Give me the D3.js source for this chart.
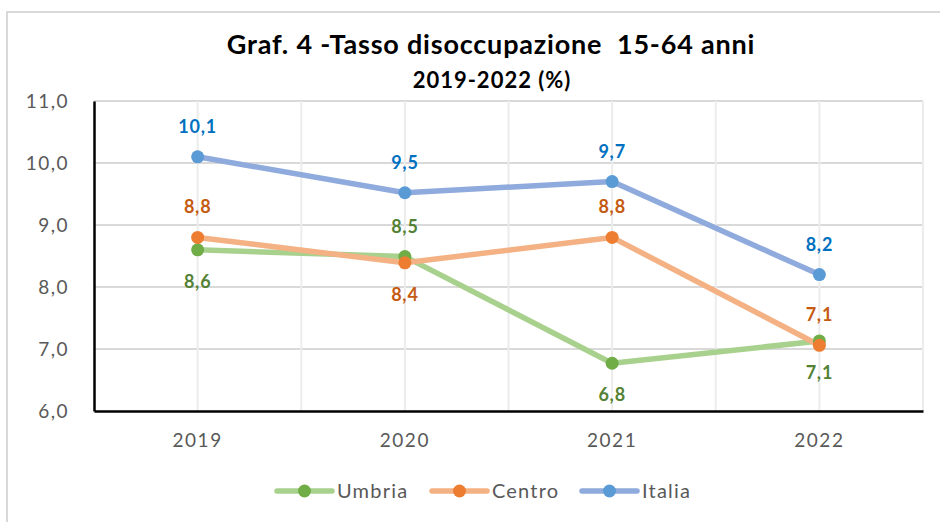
<!DOCTYPE html>
<html>
<head>
<meta charset="utf-8">
<script src="https://d3js.org/d3.v7.min.js"></script>
<style>
  body { margin: 0; background: #fff; }
  text { font-family: Lato, "Liberation Sans", sans-serif; }
</style>
</head>
<body>
<script>
  var years = ["2019", "2020", "2021", "2022"];
  var umbria = [8.6, 8.49, 6.77, 7.13];
  var centro = [8.8, 8.39, 8.8, 7.06];
  var italia = [10.1, 9.52, 9.7, 8.2];
  var yTicks = [6, 7, 8, 9, 10, 11];

  // label side for each point: -1 above, 1 below
  var series = [
    { name: "Umbria", values: umbria, line: "#a9d18e", dot: "#70ad47", label: "#548235", side: [1, -1, 1, 1] },
    { name: "Centro", values: centro, line: "#f4b183", dot: "#ed7d31", label: "#c55a11", side: [-1, 1, -1, -1] },
    { name: "Italia", values: italia, line: "#8faadc", dot: "#5b9bd5", label: "#0070c0", side: [-1, -1, -1, -1] }
  ];

  var W = 940, H = 522;
  var pLeft = 94, pRight = 923, pTop = 101, pBottom = 411;

  var svg = d3.select("body").append("svg").attr("width", W).attr("height", H);

  svg.append("rect").attr("x", 7).attr("y", 12).attr("width", 960).attr("height", 540)
    .attr("fill", "#fff").attr("stroke", "#d9d9d9").attr("stroke-width", 2);

  var x = d3.scaleBand().domain(years).range([pLeft, pRight]);
  var y = d3.scaleLinear().domain([6, 11]).range([pBottom, pTop]);

  // horizontal grid
  svg.selectAll(".hg").data(yTicks.slice(1)).enter().append("line")
    .attr("x1", pLeft).attr("x2", pRight)
    .attr("y1", function (d) { return y(d); }).attr("y2", function (d) { return y(d); })
    .attr("stroke", "#d9d9d9").attr("stroke-width", 2);

  // vertical grid at band centers and edges
  var vg = [];
  years.forEach(function (d) { vg.push(x(d) + x.bandwidth() / 2); vg.push(x(d) + x.bandwidth()); });
  svg.selectAll(".vg").data(vg).enter().append("line")
    .attr("x1", function (d) { return d; }).attr("x2", function (d) { return d; })
    .attr("y1", pTop).attr("y2", pBottom)
    .attr("stroke", "#ececec").attr("stroke-width", 2);

  // axes
  var yAxis = svg.append("g").attr("transform", "translate(" + pLeft + ",0)")
    .call(d3.axisLeft(y).tickValues(yTicks).tickSize(0).tickPadding(25)
      .tickFormat(function (d) { return d3.format(".1f")(d).replace(".", ","); }));
  yAxis.select(".domain").attr("stroke", "#000").attr("stroke-width", 2.5);
  yAxis.selectAll("text").attr("fill", "#595959").style("font-size", "19px").style("letter-spacing", "1.5px");

  var xAxis = svg.append("g").attr("transform", "translate(0," + pBottom + ")")
    .call(d3.axisBottom(x).tickSize(0).tickPadding(23));
  xAxis.select(".domain").attr("stroke", "#000").attr("stroke-width", 2.5);
  xAxis.selectAll("text").attr("fill", "#595959").style("font-size", "19px").style("letter-spacing", "1.5px");

  var line = d3.line()
    .x(function (d, i) { return x(years[i]) + x.bandwidth() / 2; })
    .y(function (d) { return y(d); });

  series.forEach(function (s) {
    svg.append("path").datum(s.values).attr("d", line)
      .attr("fill", "none").attr("stroke", s.line).attr("stroke-width", 5.5)
      .attr("stroke-linejoin", "round");
  });
  series.forEach(function (s) {
    svg.selectAll(".dot-" + s.name).data(s.values).enter().append("circle")
      .attr("cx", function (d, i) { return x(years[i]) + x.bandwidth() / 2; })
      .attr("cy", function (d) { return y(d); })
      .attr("r", 6.5).attr("fill", s.dot);
  });
  series.forEach(function (s) {
    svg.selectAll(".lab-" + s.name).data(s.values).enter().append("text")
      .attr("x", function (d, i) { return x(years[i]) + x.bandwidth() / 2; })
      .attr("y", function (d, i) { return y(d) + (s.side[i] < 0 ? -24 : 38); })
      .attr("text-anchor", "middle")
      .attr("fill", s.label).style("font-size", "18px").style("font-weight", "bold")
      .style("letter-spacing", "0.8px")
      .text(function (d) { return d3.format(".1f")(d).replace(".", ","); });
  });

  // title
  svg.append("text").attr("x", 491).attr("y", 54).attr("text-anchor", "middle")
    .style("font-size", "27px").style("font-weight", "bold").attr("fill", "#000")
    .style("letter-spacing", "0.8px").attr("xml:space", "preserve")
    .text("Graf. 4 -Tasso disoccupazione  15-64 anni");
  svg.append("text").attr("x", 492).attr("y", 88).attr("text-anchor", "middle")
    .style("font-size", "22px").style("font-weight", "bold").attr("fill", "#000")
    .style("letter-spacing", "1px")
    .text("2019-2022 (%)");

  // legend
  var legX = [277, 432, 582];
  var leg = svg.selectAll(".leg").data(series).enter().append("g")
    .attr("transform", function (d, i) { return "translate(" + legX[i] + ",491)"; });
  leg.append("line").attr("x1", 0).attr("x2", 55).attr("y1", 0).attr("y2", 0)
    .attr("stroke", function (d) { return d.line; }).attr("stroke-width", 5.5).attr("stroke-linecap", "round");
  leg.append("circle").attr("cx", 27.5).attr("cy", 0).attr("r", 6.5).attr("fill", function (d) { return d.dot; });
  leg.append("text").attr("x", 60).attr("y", 7).attr("fill", "#595959").style("font-size", "20px")
    .style("letter-spacing", "1.2px")
    .text(function (d) { return d.name; });
</script>
</body>
</html>
